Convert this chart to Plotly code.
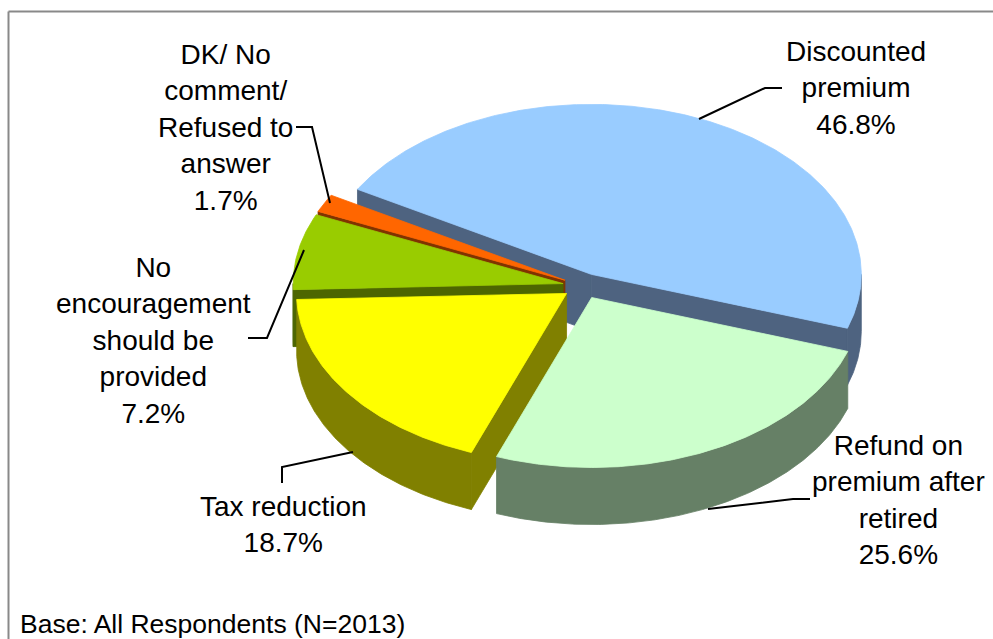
import numpy as np
import plotly.graph_objects as go

# ---------------- data ----------------
labels = [
    "Discounted premium",
    "Refund on premium after retired",
    "Tax reduction",
    "No encouragement should be provided",
    "DK/ No comment/ Refused to answer",
]
values = [46.8, 25.6, 18.7, 7.2, 1.7]
label_lines = [
    "Discounted<br>premium",
    "Refund on<br>premium after<br>retired",
    "Tax reduction",
    "No<br>encouragement<br>should be<br>provided",
    "DK/ No<br>comment/<br>Refused to<br>answer",
]
footnote = "Base: All Respondents (N=2013)"

# ---------------- style ----------------
top_colors = ["#99CCFF", "#CCFFCC", "#FFFF00", "#99CC00", "#FF6600"]
side_colors = ["#4E6380", "#668066", "#808000", "#4D6600", "#803300"]
FONT = "Liberation Sans, Arial, sans-serif"
W, H = 993, 639

# pie geometry (drawing frame in pixels)
CX, CY = 583, 286          # centre of the un-exploded top face
RX, RY = 270, 170          # radii of the top ellipse
DEPTH = 57                 # thickness of the pie
EXPLODE = 0.075            # explosion as fraction of radius
START = 300.0              # angle of first slice (deg, clockwise from 12 o'clock)

label_pos = [(856, 88), (898, 500), (283, 524), (153, 340), (225, 127)]
leaders = [
    [(699, 119), (765, 88), (782, 88)],
    [(708, 509), (793, 499), (810, 499)],
    [(282, 483), (282, 467), (353, 452)],
    [(248, 338), (267, 338), (304, 250)],
    [(296, 127), (312, 127), (330, 203)],
]


def ell(ax, ay, th):
    t = np.radians(th)
    return ax + RX * np.sin(t), ay - RY * np.cos(t)


total = float(sum(values))
spans = [v / total * 360.0 for v in values]
starts = START + np.concatenate([[0.0], np.cumsum(spans)[:-1]])

slices = []
for i, (a0, sp) in enumerate(zip(starts, spans)):
    a1 = a0 + sp
    bis = (a0 + a1) / 2
    apx, apy = (CX + EXPLODE * RX * np.sin(np.radians(bis)),
                CY - EXPLODE * RY * np.cos(np.radians(bis)))
    slices.append(dict(i=i, a0=a0, a1=a1, bis=bis, apx=apx, apy=apy))

# paint back-to-front
slices.sort(key=lambda s: -np.cos(np.radians(s["bis"])))

fig = go.Figure()


def poly(xs, ys, color):
    xs = list(xs) + [xs[0]]
    ys = list(ys) + [ys[0]]
    fig.add_trace(go.Scatter(
        x=xs, y=ys, mode="lines", fill="toself", fillcolor=color,
        line=dict(color=color, width=0.8), hoverinfo="skip", showlegend=False))


for s in slices:
    i, a0, a1, apx, apy = s["i"], s["a0"], s["a1"], s["apx"], s["apy"]
    side = side_colors[i]
    # radial walls
    for edge, visible in ((a0, np.sin(np.radians(a0)) < 0),
                          (a1, np.sin(np.radians(a1)) > 0)):
        if visible:
            ex, ey = ell(apx, apy, edge)
            poly([apx, ex, ex, apx], [apy, ey, ey + DEPTH, apy + DEPTH], side)
    # outer (front-facing) wall
    for k in (0, 1, -1):
        lo = max(a0, 90 + 360 * k)
        hi = min(a1, 270 + 360 * k)
        if hi > lo:
            th = np.linspace(lo, hi, max(3, int((hi - lo) * 2)))
            tx, ty = ell(apx, apy, th)
            xs = np.concatenate([tx, tx[::-1]])
            ys = np.concatenate([ty, (ty + DEPTH)[::-1]])
            poly(xs, ys, side)
    # top face
    th = np.linspace(a0, a1, max(3, int((a1 - a0) * 2)))
    tx, ty = ell(apx, apy, th)
    poly(np.concatenate([[apx], tx]), np.concatenate([[apy], ty]),
         top_colors[i])

# labels
annotations = []
for i in range(len(values)):
    x, y = label_pos[i]
    annotations.append(dict(
        x=x, y=y, xref="x", yref="y",
        text=f"{label_lines[i]}<br>{values[i]:.1f}%",
        showarrow=False, align="center", xanchor="center", yanchor="middle",
        font=dict(family=FONT, size=28, color="#000000")))
annotations.append(dict(
    x=18, y=624, xref="x", yref="y", text=footnote, showarrow=False,
    xanchor="left", yanchor="middle",
    font=dict(family=FONT, size=26.5, color="#000000")))

shapes = []
for pts in leaders:
    path = "M " + " L ".join(f"{px},{py}" for px, py in pts)
    shapes.append(dict(type="path", path=path, xref="x", yref="y",
                       line=dict(color="#000000", width=2)))
# chart frame (top and left edges visible)
shapes.append(dict(type="line", xref="x", yref="y", x0=8.5, y0=11.5, x1=W, y1=11.5,
                   line=dict(color="#898989", width=2)))
shapes.append(dict(type="line", xref="x", yref="y", x0=8.5, y0=11.5, x1=8.5, y1=H,
                   line=dict(color="#898989", width=2)))

fig.update_layout(
    width=W, height=H, autosize=False,
    margin=dict(l=0, r=0, t=0, b=0),
    paper_bgcolor="#FFFFFF", plot_bgcolor="#FFFFFF",
    xaxis=dict(range=[0, W], visible=False, fixedrange=True),
    yaxis=dict(range=[H, 0], visible=False, fixedrange=True),
    annotations=annotations, shapes=shapes, showlegend=False,
)

fig.write_html(
    "out.html",
    config={"displayModeBar": False},
    post_script="document.body.style.margin='0';document.body.style.padding='0';"
                "document.body.style.overflow='hidden';",
)
